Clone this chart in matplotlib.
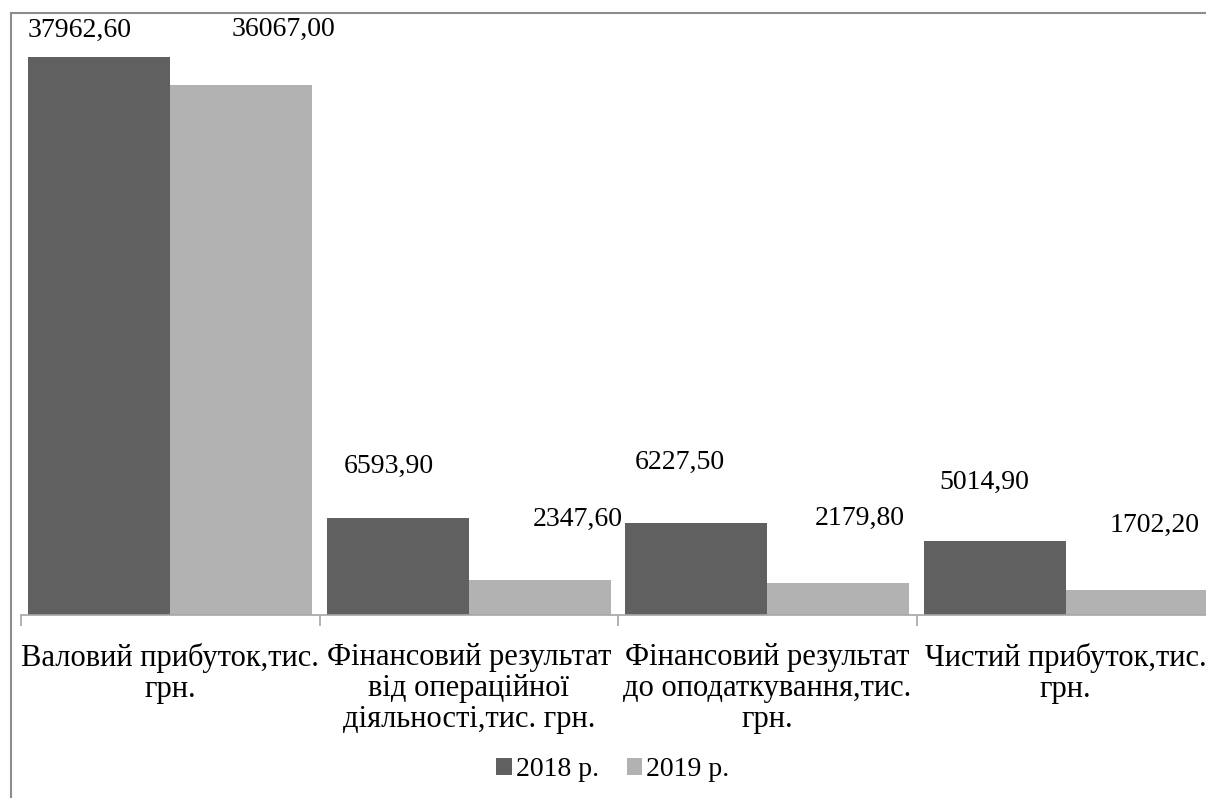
import numpy as np
import matplotlib
matplotlib.use('Agg')
import matplotlib.pyplot as plt
from matplotlib.lines import Line2D

categories = ['Валовий прибуток,тис.\nгрн.',
              'Фінансовий результат\nвід операційної\nдіяльності,тис. грн.',
              'Фінансовий результат\nдо оподаткування,тис.\nгрн.',
              'Чистий прибуток,тис.\nгрн.']
series_names = ['2018 р.', '2019 р.']
values_2018 = [37962.60, 6593.90, 6227.50, 5014.90]
values_2019 = [36067.00, 2347.60, 2179.80, 1702.20]

COLORS = ['#606060', '#b2b2b2']
FONT = 'Liberation Serif'
FS = 20
FS_CAT = 22

# custom label positions (pixels, relative to top centre of the bar)
OFFS_2018 = [(-20, 27), (-9, 52), (-16, 61), (-10, 59)]
OFFS_2019 = [(42, 55), (38, 61), (21, 65), (18, 65)]

plt.rcParams['font.family'] = [FONT, 'DejaVu Serif']

W, H = 1206, 798
fig = plt.figure(figsize=(W / 100, H / 100), dpi=100)
# axes spans past the right edge like in the cropped original
ax = fig.add_axes([21 / W, (H - 615) / H, 1194 / W, 588 / H])

x = np.arange(len(categories))
bw = 0.4765
bars1 = ax.bar(x - bw / 2, values_2018, bw, color=COLORS[0], label=series_names[0])
bars2 = ax.bar(x + bw / 2, values_2019, bw, color=COLORS[1], label=series_names[1])

ax.set_xlim(-0.5, len(categories) - 0.5)
ax.set_ylim(0, 40000)

for bars, vals, offs in [(bars1, values_2018, OFFS_2018), (bars2, values_2019, OFFS_2019)]:
    for b, v, (dx, dy) in zip(bars, vals, offs):
        ax.annotate('{:.2f}'.format(v).replace('.', ','),
                    (b.get_x() + b.get_width() / 2, v),
                    xytext=(dx, dy), textcoords='offset pixels',
                    ha='center', va='center', fontsize=FS, color='black')

for s in ['top', 'right', 'left']:
    ax.spines[s].set_visible(False)
ax.spines['bottom'].set_color('#a6a6a6')
ax.spines['bottom'].set_linewidth(1.2)
ax.set_yticks([])

ax.set_xticks(np.arange(len(categories) + 1) - 0.5)
ax.set_xticklabels([])
ax.tick_params(axis='x', which='major', length=8, color='#a6a6a6', width=1.2)
ax.set_xticks(x, minor=True)
ax.set_xticklabels(categories, minor=True, fontsize=FS_CAT, linespacing=1.1)
ax.tick_params(axis='x', which='minor', length=0, pad=20)

leg = fig.legend(loc='center', bbox_to_anchor=(613 / W, (H - 770) / H), ncol=2,
                 frameon=False, fontsize=FS, handlelength=0.55, handleheight=0.55,
                 handletextpad=0.15, columnspacing=1.0)

# chart border (cropped on the right and bottom)
fig.add_artist(Line2D([11 / W, 1.0], [1 - 13 / H, 1 - 13 / H], color='#8c8c8c', lw=1.5))
fig.add_artist(Line2D([11 / W, 11 / W], [0, 1 - 13 / H], color='#8c8c8c', lw=1.5))

fig.savefig('out.png', dpi=100)
